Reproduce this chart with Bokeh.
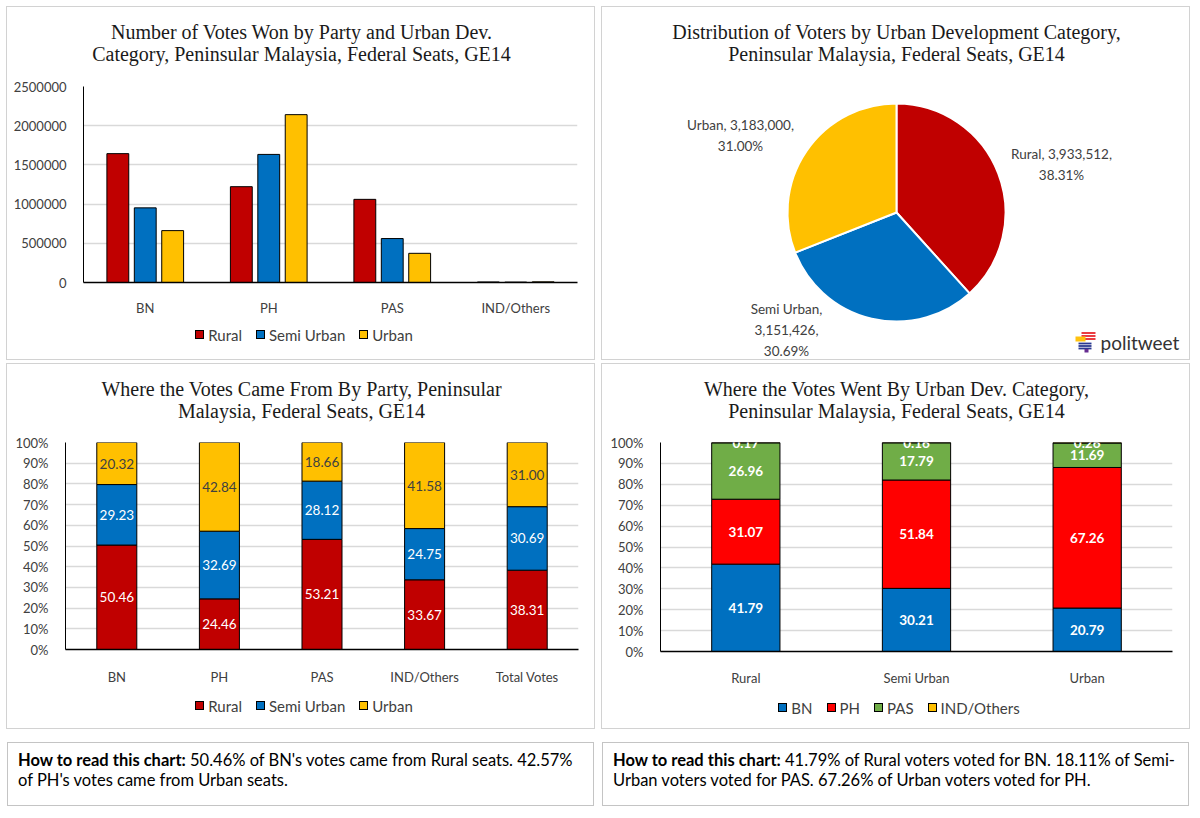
import math
from bokeh.plotting import figure
from bokeh.models import (FactorRange, Range1d, ColumnDataSource, Div, Spacer,
                          FixedTicker, BasicTickFormatter, PrintfTickFormatter)
from bokeh.layouts import row, column
from bokeh.transform import dodge
from bokeh.core.properties import value
from bokeh.embed import file_html
from bokeh.resources import INLINE

# ---------------- data ----------------
parties = ["BN", "PH", "PAS", "IND/Others"]
dev_categories = ["Rural", "Semi Urban", "Urban"]
votes_rural = [1643800, 1222100, 1060500, 6700]
votes_semi_urban = [952000, 1633700, 560600, 5000]
votes_urban = [661700, 2140900, 372100, 8300]
votes_ticks = [0, 500000, 1000000, 1500000, 2000000, 2500000]

voters_by_category = [3933512, 3151426, 3183000]

from_groups = ["BN", "PH", "PAS", "IND/Others", "Total Votes"]
from_rural = [50.46, 24.46, 53.21, 33.67, 38.31]
from_semi_urban = [29.23, 32.69, 28.12, 24.75, 30.69]
from_urban = [20.32, 42.84, 18.66, 41.58, 31.00]

went_parties = ["BN", "PH", "PAS", "IND/Others"]
went_bn = [41.79, 30.21, 20.79]
went_ph = [31.07, 51.84, 67.26]
went_pas = [26.96, 17.79, 11.69]
went_ind = [0.17, 0.16, 0.26]
pct_ticks = [0, 10, 20, 30, 40, 50, 60, 70, 80, 90, 100]

title1 = ["Number of Votes Won by Party and Urban Dev.", "Category, Peninsular Malaysia, Federal Seats, GE14"]
title2 = ["Distribution of Voters by Urban Development Category,", "Peninsular Malaysia, Federal Seats, GE14"]
title3 = ["Where the Votes Came From By Party, Peninsular", "Malaysia, Federal Seats, GE14"]
title4 = ["Where the Votes Went By Urban Dev. Category,", "Peninsular Malaysia, Federal Seats, GE14"]

note_left = ("<b>How to read this chart:</b> 50.46% of BN's votes came from Rural seats. 42.57%<br>"
             "of PH's votes came from Urban seats.")
note_right = ("<b>How to read this chart:</b> 41.79% of Rural voters voted for BN. 18.11% of Semi-<br>"
              "Urban voters voted for PAS. 67.26% of Urban voters voted for PH.")

# ---------------- styles ----------------
RURAL_C, SEMI_C, URBAN_C = "#C00000", "#0070C0", "#FFC000"
PARTY_C = ["#0070C0", "#FF0000", "#70AD47", "#FFC000"]
CAT_C = [RURAL_C, SEMI_C, URBAN_C]
LABEL_FONT = "Lato"
TEXT_C = "#404040"
AXIS_FS = "13px"
PANEL_W = 587
TITLE_H = 60
LEGEND_H = 40


def title_div(lines):
    html = ('<div style="width:%dpx; box-sizing:border-box; font-family:\'Liberation Serif\', serif; '
            'font-size:20px; line-height:22px; color:#1a1a1a; text-align:center; '
            'padding:14px 0 0 2px; white-space:nowrap;">' % PANEL_W
            + "<br>".join(lines) + "</div>")
    return Div(text=html, width=PANEL_W, height=TITLE_H, margin=0, styles={"background-color": "white"})


def legend_div(names, colors, pad_top):
    items = []
    for k, (name, col) in enumerate(zip(names, colors)):
        gap = "0" if k == 0 else "14px"
        items.append(
            '<span style="margin-left:%s; white-space:nowrap;">'
            '<span style="display:inline-block; width:9px; height:9px; background:%s; '
            'border:1px solid #000; vertical-align:middle; margin-right:4px; position:relative; top:-1px;"></span>'
            '<span style="vertical-align:middle;">%s</span></span>' % (gap, col, name))
    html = ('<div style="width:%dpx; box-sizing:border-box; font-family:Lato, sans-serif; font-size:15px; '
            'line-height:20px; color:%s; text-align:center; padding:%dpx 0 0 7px; white-space:nowrap;">'
            % (PANEL_W, TEXT_C, pad_top) + "".join(items) + "</div>")
    return Div(text=html, width=PANEL_W, height=LEGEND_H, margin=0, styles={"background-color": "white"})


def make_fig(height, x_range, y_range, borders, axes=True):
    l, r, t, b = borders
    kw = {}
    if not axes:
        kw = dict(x_axis_location=None, y_axis_location=None)
    p = figure(width=PANEL_W, height=height, x_range=x_range, y_range=y_range,
               output_backend="svg", toolbar_location=None,
               min_border_left=l, min_border_right=r, min_border_top=t, min_border_bottom=b,
               background_fill_color="white", border_fill_color="white", **kw)
    p.outline_line_color = None
    return p


def panel(lines, fig, legend=None):
    kids = [title_div(lines), fig] + ([legend] if legend is not None else [])
    return column(*kids, spacing=0,
                  styles={"outline": "1px solid #d2d2d2", "background-color": "white"})


def style_axes(p, ticks, fmt, x_standoff):
    p.xgrid.grid_line_color = None
    p.ygrid.grid_line_color = "#d9d9d9"
    p.ygrid.grid_line_width = 1.5
    p.yaxis.ticker = FixedTicker(ticks=ticks)
    p.yaxis.formatter = fmt
    for ax in (p.xaxis[0], p.yaxis[0]):
        ax.major_tick_line_color = None
        ax.minor_tick_line_color = None
        ax.major_label_text_font = LABEL_FONT
        ax.major_label_text_font_size = AXIS_FS
        ax.major_label_text_color = TEXT_C
        ax.axis_line_color = "black"
    p.xaxis.axis_line_width = 1.5
    p.yaxis.axis_line_width = 1
    p.yaxis.major_label_standoff = 11
    p.xaxis.major_label_standoff = x_standoff


# ---------------- chart 1: grouped bars ----------------
p1 = make_fig(252, FactorRange(factors=parties), Range1d(0, 2500000), (76, 17, 19, 37))
style_axes(p1, votes_ticks, BasicTickFormatter(use_scientific=False), 11)
src1 = ColumnDataSource(dict(party=parties, rural=votes_rural, semi=votes_semi_urban, urban=votes_urban))
bar_w = 0.177
p1.vbar(x=dodge("party", -0.222, range=p1.x_range), top="rural", width=bar_w, source=src1,
        fill_color=RURAL_C, line_color="black", line_width=1)
p1.vbar(x=dodge("party", 0.0, range=p1.x_range), top="semi", width=bar_w, source=src1,
        fill_color=SEMI_C, line_color="black", line_width=1)
p1.vbar(x=dodge("party", 0.222, range=p1.x_range), top="urban", width=bar_w, source=src1,
        fill_color=URBAN_C, line_color="black", line_width=1)
leg1 = legend_div(dev_categories, CAT_C, 4)

# ---------------- chart 2: pie ----------------
p2 = make_fig(292, Range1d(0, PANEL_W), Range1d(0, 292), (0, 0, 0, 0), axes=False)
p2.grid.visible = False
PIE_CX, PIE_CY, PIE_R = 294, 147, 109
total_voters = sum(voters_by_category)
starts, ends, labels = [], [], []
ang = math.pi / 2
label_breaks = [" ", "\n", " "]
for name, n, brk in zip(dev_categories, voters_by_category, label_breaks):
    frac = n / total_voters
    starts.append(ang)
    ang -= 2 * math.pi * frac
    ends.append(ang)
    labels.append(f"{name},{brk}{n:,},\n{frac * 100:.2f}%")
src2 = ColumnDataSource(dict(start=starts, end=ends, color=CAT_C))
p2.wedge(x=PIE_CX, y=PIE_CY, radius=PIE_R, start_angle="start", end_angle="end", direction="clock",
         fill_color="color", line_color="white", line_width=2, source=src2)
label_offsets = [(165, 48), (-110, -117.5), (-156, 77)]
p2.text(x=[PIE_CX + dx for dx, dy in label_offsets], y=[PIE_CY + dy for dx, dy in label_offsets],
        text=labels, text_align="center", text_baseline="middle", text_font=value(LABEL_FONT),
        text_font_size="13.5px", text_color=TEXT_C, text_line_height=1.33)
# politweet logo
p2.quad(left=[479, 479, 479], right=[493, 493, 493], bottom=[25.6, 22.6, 19.6], top=[27.4, 24.4, 21.4],
        fill_color="#E8262C", line_color=None)
p2.quad(left=[473], right=[483], bottom=[18], top=[23], fill_color="#FFC20E", line_color=None)
p2.quad(left=[476, 476, 476], right=[489, 489, 489], bottom=[15.1, 12.6, 10.1], top=[16.9, 14.4, 11.9],
        fill_color="#2B3990", line_color=None)
p2.quad(left=[482], right=[486], bottom=[7], top=[10.5], fill_color="#662D91", line_color=None)
p2.text(x=[498], y=[17], text=["politweet"], text_align="left", text_baseline="middle",
        text_font=value("Lato"), text_font_size="19px", text_color="#333333")

# ---------------- chart 3: where votes came from ----------------
p3 = make_fig(264, FactorRange(factors=from_groups), Range1d(0, 100), (58, 16, 18, 39))
style_axes(p3, pct_ticks, PrintfTickFormatter(format="%d%%"), 13)
tot3 = [a + b + c for a, b, c in zip(from_rural, from_semi_urban, from_urban)]
n_r = [a / t * 100 for a, t in zip(from_rural, tot3)]
n_s = [a / t * 100 for a, t in zip(from_semi_urban, tot3)]
n_u = [a / t * 100 for a, t in zip(from_urban, tot3)]
src3 = ColumnDataSource(dict(group=from_groups, r=n_r, s=n_s, u=n_u))
p3.vbar_stack(["r", "s", "u"], x="group", width=0.39, source=src3, fill_color=CAT_C,
              line_color="black", line_width=1)
lab_x, lab_y, lab_t, lab_c = [], [], [], []
for i, g in enumerate(from_groups):
    base = 0
    for vals, nv, col in ((from_rural, n_r, "white"), (from_semi_urban, n_s, "white"), (from_urban, n_u, TEXT_C)):
        lab_x.append(g)
        lab_y.append(base + nv[i] / 2)
        lab_t.append(f"{vals[i]:.2f}")
        lab_c.append(col)
        base += nv[i]
p3.text(x=lab_x, y=lab_y, text=lab_t, text_color=lab_c, text_align="center", text_baseline="middle",
        text_font=value(LABEL_FONT), text_font_size="13.5px")
leg3 = legend_div(dev_categories, CAT_C, 6)

# ---------------- chart 4: where votes went ----------------
p4 = make_fig(264, FactorRange(factors=dev_categories), Range1d(0, 100), (58, 17, 18, 34))
style_axes(p4, pct_ticks, PrintfTickFormatter(format="%d%%"), 12)
series4 = [went_bn, went_ph, went_pas, went_ind]
tot4 = [sum(s[i] for s in series4) for i in range(3)]
norm4 = [[s[i] / tot4[i] * 100 for i in range(3)] for s in series4]
src4 = ColumnDataSource(dict(cat=dev_categories, bn=norm4[0], ph=norm4[1], pas=norm4[2], ind=norm4[3]))
p4.vbar_stack(["bn", "ph", "pas", "ind"], x="cat", width=0.4, source=src4, fill_color=PARTY_C,
              line_color="black", line_width=1)
lx, ly, lt = [], [], []
for i, c in enumerate(dev_categories):
    base = 0
    for s, nv in zip(series4, norm4):
        lx.append(c)
        ly.append(base + nv[i] / 2)
        lt.append(f"{s[i]:.2f}")
        base += nv[i]
p4.text(x=lx, y=ly, text=lt, text_color="white", text_align="center", text_baseline="middle",
        text_font=value(LABEL_FONT), text_font_size="13.5px", text_font_style="bold")
leg4 = legend_div(went_parties, PARTY_C, 8)

# ---------------- notes ----------------
def note(html):
    inner = ('<div style="padding:7px 10px; font-family: Lato, sans-serif; font-size:16.5px; '
             'line-height:20px; color:#000; white-space:nowrap;">' + html + '</div>')
    return Div(text=inner, width=PANEL_W, height=64, margin=0,
               styles={"border": "1px solid #c4c4c4", "background-color": "white",
                       "box-sizing": "border-box"})

layout = column(
    Spacer(height=7),
    row(Spacer(width=7), panel(title1, p1, leg1), Spacer(width=8), panel(title2, p2), spacing=0),
    Spacer(height=5),
    row(Spacer(width=7), panel(title3, p3, leg3), Spacer(width=8), panel(title4, p4, leg4), spacing=0),
    Spacer(height=14),
    row(Spacer(width=7), note(note_left), Spacer(width=8), note(note_right), spacing=0),
    spacing=0,
)

open("out.html", "w").write(file_html(layout, INLINE))
